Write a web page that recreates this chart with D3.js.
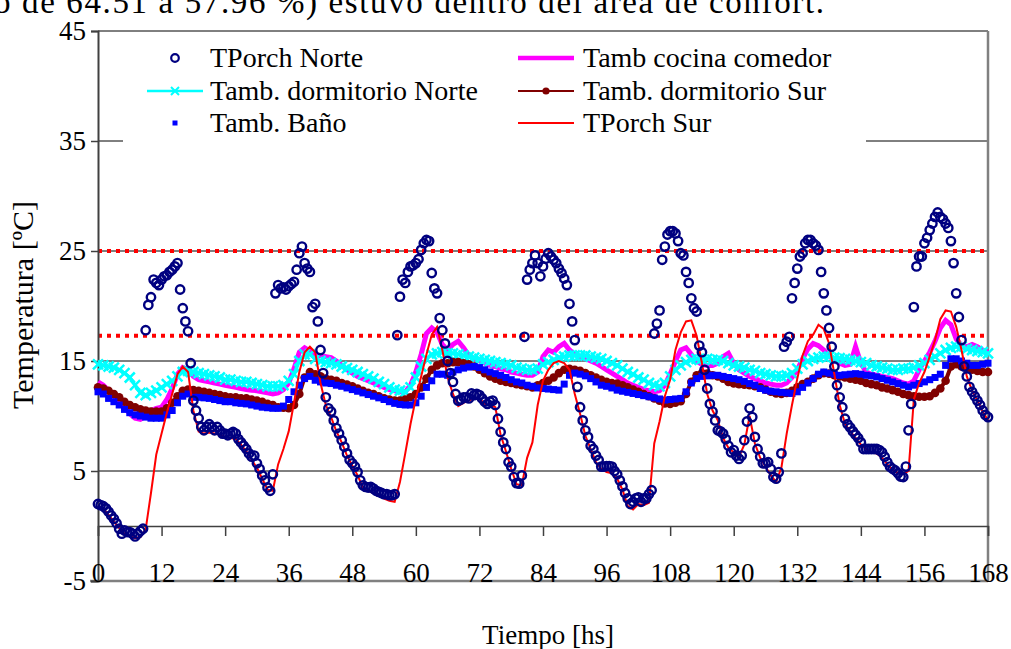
<!DOCTYPE html>
<html>
<head>
<meta charset="utf-8">
<script src="https://cdn.jsdelivr.net/npm/d3@7"></script>
<style>
  html, body { margin: 0; padding: 0; background: #fff; }
  svg { display: block; font-family: "Liberation Serif", "Times New Roman", serif; }
</style>
</head>
<body>
<div id="chart"></div>
<script>
// TPorch Norte, every half hour from 0 to 168 hs
var tporchNorte = [
  2.0, 1.9, 1.8, 1.6, 1.3, 0.95, 0.65, 0.25, -0.25, -0.7, -0.4, -0.55,
  -0.55, -0.7, -0.95, -0.7, -0.45, -0.25, 17.8, 20.1, 20.8, 22.4, 22.1, 21.9,
  22.4, 22.7, 22.8, 23.1, 23.3, 23.6, 23.9, 21.5, 19.8, 18.6, 17.7, 14.8,
  11.4, 10.5, 9.8, 9.0, 8.7, 9.0, 9.25, 9.0, 8.7, 9.0, 8.7, 8.4,
  8.4, 8.25, 8.4, 8.55, 8.4, 7.9, 7.6, 7.3, 7.0, 6.6, 6.3, 6.4,
  5.7, 5.2, 4.6, 4.15, 3.5, 3.2, 4.7, 21.15, 21.9, 21.6, 21.7, 21.5,
  21.8, 22.0, 22.2, 23.3, 24.8, 25.4, 23.9, 23.4, 23.1, 19.9, 20.2, 18.6,
  16.0, 13.9, 11.7, 10.7, 10.4, 9.6, 8.9, 8.4, 7.8, 7.2, 6.6, 6.0,
  5.7, 5.4, 4.9, 4.15, 3.7, 3.55, 3.5, 3.55, 3.4, 3.2, 3.1, 3.0,
  2.9, 2.9, 2.8, 2.8, 2.9, 17.35, 20.85, 22.4, 22.1, 23.1, 23.6, 23.7,
  23.9, 24.25, 25.1, 25.7, 26.0, 25.9, 23.0, 21.6, 21.15, 18.9, 17.8, 16.6,
  15.0, 13.9, 13.1, 12.0, 11.4, 11.5, 11.7, 11.7, 11.6, 12.05, 11.9, 12.0,
  11.9, 11.6, 11.3, 11.1, 11.3, 11.4, 11.0, 9.75, 8.55, 7.6, 7.0, 5.8,
  5.4, 4.45, 3.9, 3.85, 4.6, 17.2, 22.4, 23.3, 23.9, 24.6, 23.9, 22.7,
  23.6, 24.3, 24.8, 24.5, 24.2, 23.9, 23.4, 23.0, 22.5, 21.9, 20.2, 18.6,
  16.9, 12.65, 10.8, 9.6, 8.7, 8.1, 7.3, 7.0, 6.4, 6.0, 5.4, 5.4,
  5.45, 5.45, 5.4, 5.0, 4.7, 4.15, 3.6, 3.0, 2.5, 2.0, 2.2, 2.5,
  2.6, 2.2, 2.5, 2.5, 2.9, 3.25, 17.5, 18.4, 19.6, 24.2, 25.4, 26.5,
  26.8, 26.8, 26.6, 25.9, 24.8, 24.6, 23.1, 22.1, 20.7, 19.8, 19.5, 16.4,
  15.8, 14.2, 12.5, 11.1, 10.4, 9.6, 8.7, 8.6, 8.4, 7.9, 7.3, 6.7,
  6.9, 6.4, 6.1, 6.4, 7.8, 9.5, 10.7, 9.9, 8.1, 7.0, 6.3, 5.7,
  5.7, 5.8, 5.2, 4.45, 4.3, 4.9, 6.6, 16.3, 16.75, 17.2, 20.7, 22.1,
  23.4, 24.5, 24.8, 25.7, 26.0, 26.0, 25.7, 25.5, 25.1, 23.1, 21.15, 19.6,
  18.0, 16.3, 14.5, 12.8, 11.7, 10.8, 9.75, 9.25, 8.95, 8.6, 8.3, 8.0,
  7.6, 7.0, 7.0, 7.0, 7.0, 7.0, 7.0, 6.9, 6.7, 6.3, 5.8, 5.4,
  5.2, 5.05, 4.8, 4.5, 4.45, 5.4, 8.7, 11.1, 19.9, 23.6, 24.5, 24.5,
  25.7, 26.2, 26.9, 27.5, 28.1, 28.5, 28.1, 27.9, 27.5, 27.1, 25.9, 23.9,
  21.15, 19.0, 16.9, 14.5, 13.6, 12.65, 12.2, 11.8, 11.4, 11.0, 10.5, 10.1,
  9.9
];
var stepNorte = 0.5;

// the other series, every hour from 0 to 168 hs
var tambCocina = [
  13.1, 12.8, 12.3, 11.8, 11.3, 10.8, 10.2, 9.8, 9.7, 10.0, 10.5, 10.7,
  10.8, 11.5, 12.5, 13.8, 14.4, 14.2, 13.6, 13.3, 13.2, 13.1, 13.0, 12.9,
  12.8, 12.7, 12.6, 12.5, 12.4, 12.35, 12.3, 12.2, 12.1, 12.0, 12.1, 12.4,
  13.0, 14.3, 15.8, 16.2, 15.9, 15.5, 15.5, 15.4, 15.3, 15.0, 14.6, 14.2,
  13.9, 13.6, 13.4, 13.2, 13.0, 12.8, 12.6, 12.4, 12.3, 12.2, 12.2, 12.8,
  14.0, 15.6, 17.5, 18.0, 17.6, 16.5, 16.0, 16.5, 16.8, 16.2, 15.5, 15.2,
  15.0, 14.8, 14.6, 14.5, 14.3, 14.2, 14.0, 13.9, 13.8, 13.7, 13.7, 14.0,
  15.4, 16.0, 15.8, 16.3, 16.6, 16.0, 15.6, 15.4, 15.2, 15.0, 14.8, 14.5,
  14.2, 13.9, 13.6, 13.3, 13.0, 12.8, 12.6, 12.4, 12.3, 12.2, 12.3, 12.8,
  13.8, 15.0, 16.0, 16.2, 15.6, 15.0, 14.7, 14.6, 14.6, 14.8, 15.4, 15.7,
  14.8, 14.2, 13.9, 13.6, 13.4, 13.2, 13.0, 12.9, 12.8, 12.8, 13.0, 13.5,
  14.2, 15.2, 16.1, 16.6, 16.4, 16.0, 15.5, 15.0, 14.8, 14.6, 14.7, 16.3,
  14.8, 14.0, 13.8, 13.7, 13.6, 13.5, 13.4, 13.2, 13.0, 12.9, 13.2, 14.2,
  15.0, 15.8, 16.8, 18.0, 18.7, 18.3, 17.0, 16.4, 16.3, 16.5, 16.3, 16.0,
  15.8
];
var tambDormNorte = [
  14.7, 14.6, 14.5, 14.4, 14.2, 13.9, 13.5, 12.8, 12.1, 11.9, 12.1, 12.3,
  12.6, 12.9, 13.2, 13.6, 14.0, 14.1, 14.0, 13.9, 13.8, 13.7, 13.6, 13.5,
  13.3, 13.3, 13.2, 13.1, 13.1, 13.0, 12.9, 12.8, 12.7, 12.7, 12.7, 12.8,
  13.2, 13.8, 15.0, 15.6, 15.6, 15.2, 15.0, 14.9, 14.8, 14.7, 14.5, 14.35,
  14.2, 14.0, 13.8, 13.6, 13.4, 13.1, 12.9, 12.6, 12.4, 12.3, 12.2, 12.6,
  13.5, 14.5, 15.2, 15.6, 15.7, 15.8, 15.7, 15.7, 15.6, 15.5, 15.4, 15.3,
  15.2, 15.1, 15.0, 14.9, 14.8, 14.7, 14.6, 14.4, 14.3, 14.2, 14.2, 14.3,
  14.7, 14.9, 15.1, 15.3, 15.4, 15.5, 15.5, 15.5, 15.5, 15.4, 15.3, 15.2,
  15.0, 14.8, 14.6, 14.3, 14.0, 13.8, 13.5, 13.3, 13.0, 12.8, 12.7, 13.0,
  13.6, 14.2, 14.6, 14.9, 15.1, 15.2, 15.2, 15.2, 15.1, 15.1, 15.0, 14.8,
  14.6, 14.5, 14.4, 14.2, 14.1, 13.9, 13.8, 13.7, 13.6, 13.6, 13.7, 13.9,
  14.3, 14.7, 15.0, 15.2, 15.3, 15.4, 15.4, 15.3, 15.25, 15.2, 15.1, 15.0,
  14.9, 14.8, 14.6, 14.5, 14.4, 14.3, 14.2, 14.2, 14.3, 14.3, 14.4, 14.6,
  14.8, 15.1, 15.4, 15.7, 16.0, 16.2, 16.3, 16.3, 16.1, 16.0, 15.9, 15.8,
  15.7
];
var tambDormSur = [
  12.6, 12.5, 12.3, 12.0, 11.7, 11.3, 11.0, 10.8, 10.6, 10.5, 10.4, 10.4,
  10.4, 10.7, 11.2, 11.8, 12.3, 12.4, 12.35, 12.3, 12.2, 12.1, 12.0, 11.9,
  11.8, 11.7, 11.7, 11.6, 11.6, 11.5, 11.4, 11.3, 11.1, 11.0, 10.8, 10.75,
  10.7, 11.0, 12.0, 13.5, 14.0, 13.8, 13.6, 13.4, 13.3, 13.2, 13.0, 12.85,
  12.7, 12.5, 12.3, 12.1, 12.0, 11.8, 11.6, 11.5, 11.4, 11.4, 11.5, 11.7,
  12.0, 12.6, 13.4, 14.2, 14.6, 14.8, 14.8, 14.9, 14.9, 14.8, 14.7, 14.5,
  14.2, 13.9, 13.6, 13.4, 13.2, 13.1, 13.0, 12.9, 12.8, 12.7, 12.6, 12.8,
  13.0, 13.2, 13.5, 13.9, 14.2, 14.3, 14.2, 14.1, 13.9, 13.7, 13.5, 13.3,
  13.1, 13.0, 12.95, 12.8, 12.6, 12.4, 12.2, 12.0, 11.8, 11.6, 11.4, 11.15,
  11.1, 11.2, 11.35, 12.0, 13.1, 13.7, 13.9, 13.85, 13.7, 13.6, 13.4, 13.1,
  12.95, 12.9, 12.85, 12.8, 12.7, 12.6, 12.4, 12.2, 12.05, 12.0, 12.1, 12.3,
  12.6, 12.9, 13.1, 13.4, 13.7, 13.9, 13.85, 13.7, 13.6, 13.5, 13.4, 13.3,
  13.2, 13.0, 12.9, 12.8, 12.6, 12.5, 12.35, 12.2, 12.0, 11.9, 11.8, 11.75,
  11.75, 11.8, 12.1, 12.5, 13.2, 14.5, 14.7, 14.5, 14.4, 14.2, 14.1, 14.0,
  14.0
];
var tambBano = [
  12.2, 12.0, 11.6, 11.3, 11.0, 10.6, 10.3, 10.1, 10.0, 9.9, 9.8, 9.8,
  9.8, 10.1, 10.5, 11.2, 11.8, 12.0, 11.7, 11.7, 11.65, 11.6, 11.5, 11.4,
  11.3, 11.3, 11.2, 11.15, 11.1, 11.0, 10.9, 10.8, 10.75, 10.7, 10.7, 10.9,
  11.5, 12.2, 12.8, 13.4, 13.6, 13.25, 13.1, 13.0, 12.95, 12.8, 12.7, 12.55,
  12.4, 12.25, 12.1, 11.95, 11.8, 11.65, 11.5, 11.3, 11.15, 11.05, 11.0, 11.0,
  11.2, 11.8, 12.6, 13.2, 13.8, 13.8, 13.7, 14.0, 14.2, 14.35, 14.45, 14.5,
  14.4, 14.2, 14.0, 13.85, 13.7, 13.5, 13.3, 13.1, 13.0, 12.8, 12.7, 12.55,
  12.5, 12.45, 12.4, 12.35, 12.9, 13.7, 13.9, 13.8, 13.65, 13.4, 13.1, 12.8,
  12.7, 12.55, 12.35, 12.25, 12.15, 12.05, 11.95, 11.85, 11.75, 11.65, 11.55, 11.45,
  11.5, 11.55, 11.6, 12.2, 13.0, 13.4, 13.6, 13.65, 13.7, 13.7, 13.6, 13.5,
  13.4, 13.3, 13.15, 12.95, 12.8, 12.5, 12.35, 12.25, 12.2, 12.15, 12.1, 12.05,
  12.2, 12.6, 13.0, 13.4, 13.8, 14.0, 13.9, 13.8, 13.7, 13.75, 13.8, 13.85,
  13.8, 13.7, 13.65, 13.55, 13.4, 13.25, 13.1, 12.95, 12.8, 12.65, 12.8, 12.95,
  13.1, 13.3, 13.5, 13.8, 14.6, 15.2, 15.2, 15.0, 14.8, 14.6, 14.6, 14.7,
  14.8
];
var tporchSur = [
  1.8, 1.6, 1.0, 0.4, -0.2, -0.7, -0.9, -1.1, -1.0, -0.3, 3.0, 6.5,
  8.4, 10.3, 12.0, 13.8, 14.5, 14.0, 10.5, 8.6, 8.4, 8.5, 8.4, 8.3,
  8.1, 8.0, 7.9, 7.4, 6.8, 6.0, 5.3, 4.3, 3.3, 3.2, 5.6, 7.0,
  8.6, 11.2, 14.0, 15.8, 16.3, 15.8, 13.0, 11.0, 9.9, 8.6, 7.6, 6.4,
  5.5, 4.6, 3.5, 3.2, 3.0, 2.8, 2.5, 2.3, 2.2, 4.0, 6.6, 9.3,
  11.6, 13.6, 15.6, 17.4, 18.1, 16.0, 13.5, 12.0, 10.9, 11.2, 11.4, 11.6,
  11.6, 11.1, 11.0, 10.8, 8.3, 6.8, 5.2, 3.8, 3.7, 6.2, 7.6, 11.0,
  13.2, 14.2, 14.8, 15.0, 14.8, 14.2, 12.0, 10.2, 8.2, 7.0, 5.8, 5.2,
  4.9, 4.8, 4.3, 3.3, 1.8, 1.5, 2.0, 1.9, 2.1, 7.5, 9.5, 11.8,
  13.3, 16.0, 17.6, 18.6, 18.7, 17.3, 14.8, 12.0, 10.5, 9.6, 8.0, 7.1,
  6.7, 6.3, 7.4, 10.0, 7.5, 6.2, 5.4, 4.6, 4.0, 5.3, 8.4, 11.0,
  13.4, 15.5, 16.8, 17.4, 18.3, 17.9, 16.6, 13.8, 11.0, 9.3, 8.6, 8.0,
  7.4, 7.0, 6.7, 6.6, 6.2, 5.6, 5.1, 4.8, 4.7, 5.0, 11.5, 13.0,
  14.0, 15.4, 16.9, 18.8, 19.6, 19.5, 18.1, 16.0, 13.6, 12.3, 11.4, 10.4,
  9.6
];
var stepHour = 1;

var comfortLimits = [25, 17.3];
var xTicks = [0, 12, 24, 36, 48, 60, 72, 84, 96, 108, 120, 132, 144, 156, 168];
var yTicks = [-5, 5, 15, 25, 35, 45];

var width = 1011, height = 649;
var font = '"Liberation Serif", "Times New Roman", serif';

var svg = d3.select('#chart').append('svg')
    .attr('width', width).attr('height', height);

var x = d3.scaleLinear().domain([0, 168]).range([98, 988]);
var y = d3.scaleLinear().domain([-5, 45]).range([581, 31]);

// cut off line of the page text above the chart
svg.append('text')
    .attr('x', -6).attr('y', 13)
    .attr('textLength', 830).attr('lengthAdjust', 'spacing')
    .style('font-family', font).style('font-size', '33px')
    .text('o de 64.51 a 57.96 %) estuvo dentro del área de confort.');

// horizontal grid lines
svg.append('g').selectAll('line')
    .data(yTicks.filter(function (d) { return d > -5; }))
    .enter().append('line')
    .attr('x1', x(0)).attr('x2', x(168))
    .attr('y1', function (d) { return y(d); })
    .attr('y2', function (d) { return y(d); })
    .attr('stroke', '#000').attr('stroke-width', 1);

// plot border right and bottom
svg.append('line').attr('x1', x(168)).attr('x2', x(168)).attr('y1', y(45)).attr('y2', y(-5))
    .attr('stroke', '#808080').attr('stroke-width', 2.5);
svg.append('line').attr('x1', x(0) - 8).attr('x2', x(168)).attr('y1', y(-5)).attr('y2', y(-5))
    .attr('stroke', '#808080').attr('stroke-width', 2.5);

// comfort limits
svg.append('g').selectAll('line')
    .data(comfortLimits)
    .enter().append('line')
    .attr('x1', x(0)).attr('x2', x(168))
    .attr('y1', function (d) { return y(d); })
    .attr('y2', function (d) { return y(d); })
    .attr('stroke', '#ff0000').attr('stroke-width', 4)
    .attr('stroke-dasharray', '4,5');

// y axis
var yAxis = svg.append('g')
    .attr('transform', 'translate(' + x(0) + ',0)')
    .call(d3.axisLeft(y).tickValues(yTicks).tickSize(7).tickPadding(5).tickFormat(String));
yAxis.select('.domain').attr('stroke', '#404040').attr('stroke-width', 2);
yAxis.selectAll('.tick line').attr('stroke', '#404040').attr('stroke-width', 1.5);
yAxis.selectAll('.tick text')
    .style('font-family', font).style('font-size', '27px').attr('fill', '#000')
    .attr('dy', '0.33em');

// x axis crosses at 0
var xAxis = svg.append('g')
    .attr('transform', 'translate(0,' + y(0) + ')')
    .call(d3.axisBottom(x).tickValues(xTicks).tickSize(10).tickFormat(String));
xAxis.select('.domain').attr('stroke', '#404040').attr('stroke-width', 1.5);
xAxis.selectAll('.tick line').attr('stroke', '#404040').attr('stroke-width', 1.5);
xAxis.selectAll('.tick text')
    .style('font-family', font).style('font-size', '27px').attr('fill', '#000')
    .attr('y', y(-5) - y(0) + 1).attr('dy', 0);

// axis titles
svg.append('text')
    .attr('transform', 'translate(33,' + 305 + ') rotate(-90)')
    .attr('text-anchor', 'middle')
    .style('font-family', font).style('font-size', '30px')
    .text('Temperatura [ºC]');
svg.append('text')
    .attr('x', 548).attr('y', 644)
    .attr('text-anchor', 'middle')
    .style('font-family', font).style('font-size', '27px')
    .text('Tiempo [hs]');

function seriesLine(step) {
    return d3.line()
        .x(function (d, i) { return x(i * step); })
        .y(function (d) { return y(d); });
}

var plot = svg.append('g');

plot.append('path').datum(tambCocina)
    .attr('d', seriesLine(stepHour))
    .attr('fill', 'none').attr('stroke', '#ff00ff').attr('stroke-width', 5);

plot.append('path').datum(tambDormNorte)
    .attr('d', seriesLine(stepHour))
    .attr('fill', 'none').attr('stroke', '#00ffff').attr('stroke-width', 3.5);
plot.append('g').selectAll('path')
    .data(tambDormNorte).enter().append('path')
    .attr('transform', function (d, i) { return 'translate(' + x(i * stepHour) + ',' + y(d) + ')'; })
    .attr('d', 'M-5,-5L5,5M-5,5L5,-5')
    .attr('stroke', '#00ffff').attr('stroke-width', 2.5);

plot.append('path').datum(tambDormSur)
    .attr('d', seriesLine(stepHour))
    .attr('fill', 'none').attr('stroke', '#800000').attr('stroke-width', 4);
plot.append('g').selectAll('circle')
    .data(tambDormSur).enter().append('circle')
    .attr('cx', function (d, i) { return x(i * stepHour); })
    .attr('cy', function (d) { return y(d); })
    .attr('r', 4.3).attr('fill', '#800000');

plot.append('g').selectAll('rect')
    .data(tambBano).enter().append('rect')
    .attr('x', function (d, i) { return x(i * stepHour) - 3.5; })
    .attr('y', function (d) { return y(d) - 3.5; })
    .attr('width', 7).attr('height', 7)
    .attr('fill', '#0000ff');

plot.append('path').datum(tporchSur)
    .attr('d', seriesLine(stepHour))
    .attr('fill', 'none').attr('stroke', '#ff0000').attr('stroke-width', 2);

plot.append('g').selectAll('circle')
    .data(tporchNorte).enter().append('circle')
    .attr('cx', function (d, i) { return x(i * stepNorte); })
    .attr('cy', function (d) { return y(d); })
    .attr('r', 4.2)
    .attr('fill', 'none').attr('stroke', '#000080').attr('stroke-width', 2.4);

// legend
var legend = svg.append('g');
legend.append('rect')
    .attr('x', 123).attr('y', 37).attr('width', 743).attr('height', 110)
    .attr('fill', '#fff');

var legendItems = [
    { label: 'TPorch Norte', col: 0, row: 0, kind: 'circle' },
    { label: 'Tamb cocina comedor', col: 1, row: 0, kind: 'thick' },
    { label: 'Tamb. dormitorio Norte', col: 0, row: 1, kind: 'cross' },
    { label: 'Tamb. dormitorio Sur', col: 1, row: 1, kind: 'dot' },
    { label: 'Tamb. Baño', col: 0, row: 2, kind: 'square' },
    { label: 'TPorch Sur', col: 1, row: 2, kind: 'thin' }
];
var colMarker = [175, 546], colText = [210, 583];
var rowY = [58, 91, 123];

legendItems.forEach(function (it) {
    var cx = colMarker[it.col], cy = rowY[it.row];
    var g = legend.append('g');
    if (it.kind === 'circle') {
        g.append('circle').attr('cx', cx).attr('cy', cy).attr('r', 3.8)
            .attr('fill', 'none').attr('stroke', '#000080').attr('stroke-width', 2.2);
    } else if (it.kind === 'cross') {
        g.append('line').attr('x1', cx - 28).attr('x2', cx + 28).attr('y1', cy).attr('y2', cy)
            .attr('stroke', '#00ffff').attr('stroke-width', 2.5);
        g.append('path').attr('transform', 'translate(' + cx + ',' + cy + ')')
            .attr('d', 'M-4,-4L4,4M-4,4L4,-4').attr('stroke', '#00ffff').attr('stroke-width', 2);
    } else if (it.kind === 'square') {
        g.append('rect').attr('x', cx - 2.5).attr('y', cy - 2.5).attr('width', 5).attr('height', 5)
            .attr('fill', '#0000ff');
    } else if (it.kind === 'thick') {
        g.append('line').attr('x1', cx - 28).attr('x2', cx + 28).attr('y1', cy).attr('y2', cy)
            .attr('stroke', '#ff00ff').attr('stroke-width', 4.5);
    } else if (it.kind === 'dot') {
        g.append('line').attr('x1', cx - 28).attr('x2', cx + 28).attr('y1', cy).attr('y2', cy)
            .attr('stroke', '#800000').attr('stroke-width', 2);
        g.append('circle').attr('cx', cx).attr('cy', cy).attr('r', 3.6).attr('fill', '#800000');
    } else {
        g.append('line').attr('x1', cx - 28).attr('x2', cx + 28).attr('y1', cy).attr('y2', cy)
            .attr('stroke', '#ff0000').attr('stroke-width', 2);
    }
    g.append('text')
        .attr('x', colText[it.col]).attr('y', cy + 9)
        .style('font-family', font).style('font-size', '28px')
        .text(it.label);
});
</script>
</body>
</html>
